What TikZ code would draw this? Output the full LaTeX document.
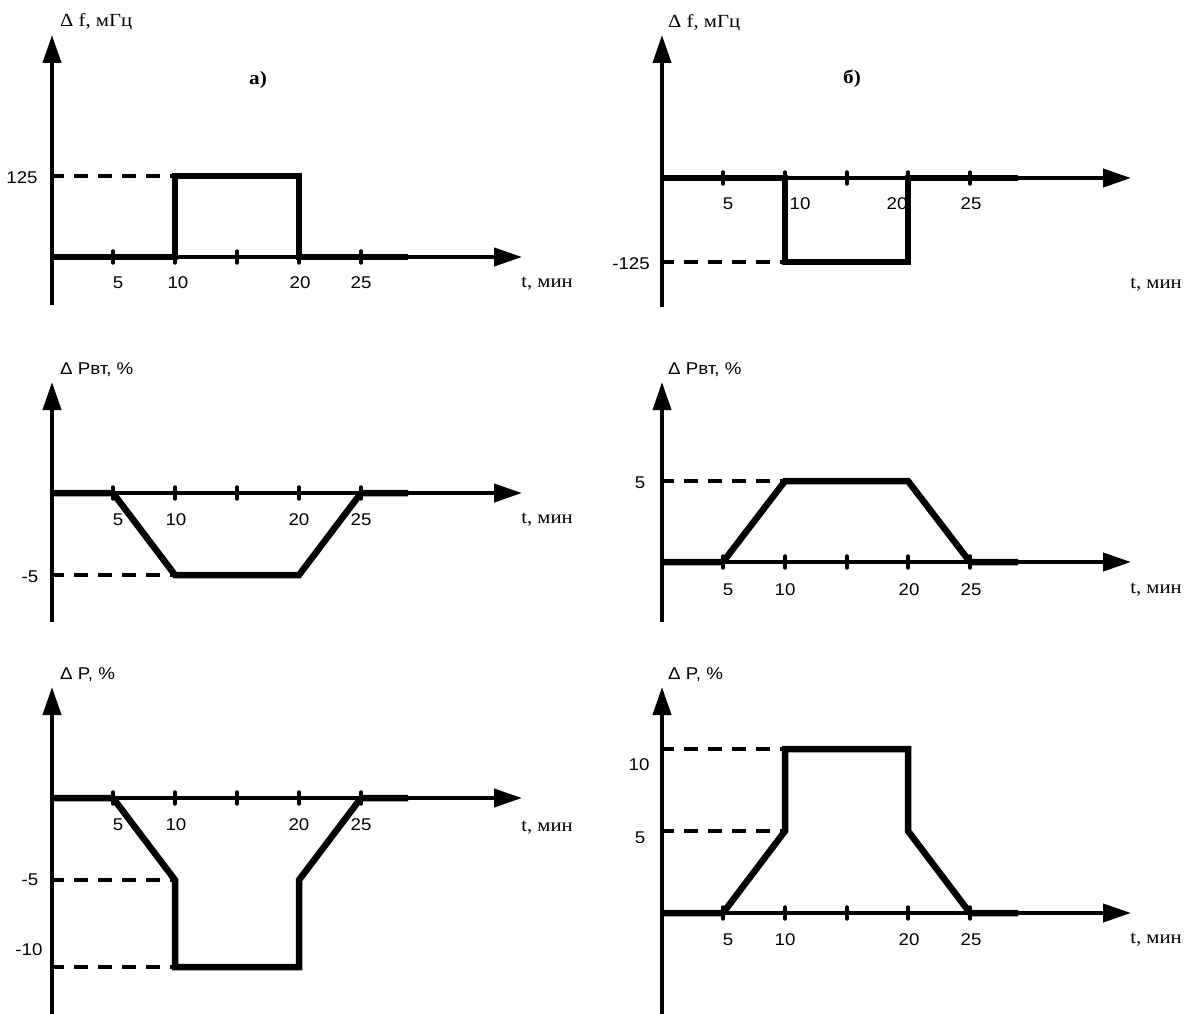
\documentclass[tikz,border=0pt]{standalone}
\usepackage{fontspec}
\setmainfont{Liberation Serif}[FakeStretch=1.12]
\newfontfamily\numf{Liberation Sans}[FakeStretch=1.1]
\usetikzlibrary{arrows.meta}
\begin{document}
\begin{tikzpicture}[x=1pt,y=-1pt,
  axisline/.style={line width=4pt,-{Triangle[length=28pt,width=18pt]}},
  plotline/.style={line width=6.5pt,line join=miter},
  dashline/.style={line width=4.5pt,dash pattern=on 14pt off 10pt,dash phase=2pt},
  tickmark/.style={line width=3.4pt,line cap=round},
  num/.style={font=\numf\fontsize{17}{17}\selectfont,inner sep=0pt},
  ser/.style={font=\fontsize{18.5}{18.5}\selectfont,inner sep=0pt},
  sanslab/.style={font=\numf\fontsize{17}{17}\selectfont,inner sep=0pt,anchor=west},
  panellab/.style={font=\bfseries\fontsize{19}{19}\selectfont,inner sep=0pt},
]
\useasboundingbox (0,0) rectangle (1184,1014);

% ================= Panel a, top: Delta f =================
\coordinate (a1y0) at (52,305); \coordinate (a1y1) at (52,35);
\coordinate (a1x0) at (50,257); \coordinate (a1x1) at (522,257);
\draw[axisline] (a1y0) -- (a1y1);
\draw[axisline] (a1x0) -- (a1x1);
\draw[dashline] (52,176) -- (175,176);
\draw[plotline] (52,257) -- (175,257) -- (175,176) -- (299,176) -- (299,257) -- (408,257);
\foreach \t in {113,175,237,299,361} \draw[tickmark] (\t,251) -- (\t,263);
\node[ser,anchor=west] (a1ylab) at (60,22) {Δ f, мГц};
\node[panellab] (a1pl) at (258,80) {а)};
\node[num] (a1v125) at (22,178) {125};
\node[num] (a1t5) at (118,283) {5};
\node[num] (a1t10) at (178,283) {10};
\node[num] (a1t20) at (300,283) {20};
\node[num] (a1t25) at (361,283) {25};
\node[ser] (a1xlab) at (547,284) {t, мин};

% ================= Panel б, top: Delta f =================
\coordinate (b1y0) at (662,307); \coordinate (b1y1) at (662,35);
\coordinate (b1x0) at (660,178); \coordinate (b1x1) at (1131,178);
\draw[axisline] (b1y0) -- (b1y1);
\draw[axisline] (b1x0) -- (b1x1);
\draw[dashline] (662,262) -- (785,262);
\draw[plotline] (662,178) -- (785,178) -- (785,262) -- (908,262) -- (908,178) -- (1018,178);
\foreach \t in {723,785,847,908,970} \draw[tickmark] (\t,172) -- (\t,184);
\node[ser,anchor=west] (b1ylab) at (668,23) {Δ f, мГц};
\node[panellab] (b1pl) at (852,79) {б)};
\node[num] (b1v125) at (631,264) {-125};
\node[num] (b1t5) at (728,204) {5};
\node[num] (b1t10) at (800,204) {10};
\node[num] (b1t20) at (897,204) {20};
\node[num] (b1t25) at (971,204) {25};
\node[ser] (b1xlab) at (1156,285) {t, мин};

% ================= Panel a, middle: Delta P_vt =================
\coordinate (a2y0) at (52,622); \coordinate (a2y1) at (52,382);
\coordinate (a2x0) at (50,493); \coordinate (a2x1) at (522,493);
\draw[axisline] (a2y0) -- (a2y1);
\draw[axisline] (a2x0) -- (a2x1);
\draw[dashline] (52,575) -- (175,575);
\draw[plotline] (52,493) -- (113,493) -- (175,575) -- (299,575) -- (361,493) -- (408,493);
\foreach \t in {113,175,237,299,361} \draw[tickmark] (\t,487) -- (\t,499);
\node[sanslab] (a2ylab) at (60,370) {Δ Pвт, \%};
\node[num] (a2v5) at (30,577) {-5};
\node[num] (a2t5) at (118,520) {5};
\node[num] (a2t10) at (176,520) {10};
\node[num] (a2t20) at (299,520) {20};
\node[num] (a2t25) at (361,520) {25};
\node[ser] (a2xlab) at (547,520) {t, мин};

% ================= Panel б, middle: Delta P_vt =================
\coordinate (b2y0) at (662,622); \coordinate (b2y1) at (662,382);
\coordinate (b2x0) at (660,562); \coordinate (b2x1) at (1131,562);
\draw[axisline] (b2y0) -- (b2y1);
\draw[axisline] (b2x0) -- (b2x1);
\draw[dashline] (662,481) -- (785,481);
\draw[plotline] (662,562) -- (723,562) -- (785,481) -- (908,481) -- (970,562) -- (1018,562);
\foreach \t in {723,785,847,908,970} \draw[tickmark] (\t,556) -- (\t,568);
\node[sanslab] (b2ylab) at (668,370) {Δ Pвт, \%};
\node[num] (b2v5) at (640,483) {5};
\node[num] (b2t5) at (728,590) {5};
\node[num] (b2t10) at (785,590) {10};
\node[num] (b2t20) at (909,590) {20};
\node[num] (b2t25) at (971,590) {25};
\node[ser] (b2xlab) at (1156,590) {t, мин};

% ================= Panel a, bottom: Delta P =================
\coordinate (a3y0) at (52,1016); \coordinate (a3y1) at (52,687);
\coordinate (a3x0) at (50,798); \coordinate (a3x1) at (522,798);
\draw[axisline] (a3y0) -- (a3y1);
\draw[axisline] (a3x0) -- (a3x1);
\draw[dashline] (52,880) -- (175,880);
\draw[dashline] (52,967) -- (175,967);
\draw[plotline] (52,798) -- (113,798) -- (175,880) -- (175,967) -- (299,967) -- (299,880) -- (361,798) -- (408,798);
\foreach \t in {113,175,237,299,361} \draw[tickmark] (\t,792) -- (\t,804);
\node[sanslab] (a3ylab) at (60,675) {Δ P, \%};
\node[num] (a3v5) at (30,880) {-5};
\node[num] (a3v10) at (29,950) {-10};
\node[num] (a3t5) at (118,825) {5};
\node[num] (a3t10) at (176,825) {10};
\node[num] (a3t20) at (299,825) {20};
\node[num] (a3t25) at (361,825) {25};
\node[ser] (a3xlab) at (547,828) {t, мин};

% ================= Panel б, bottom: Delta P =================
\coordinate (b3y0) at (662,1016); \coordinate (b3y1) at (662,687);
\coordinate (b3x0) at (660,913); \coordinate (b3x1) at (1131,913);
\draw[axisline] (b3y0) -- (b3y1);
\draw[axisline] (b3x0) -- (b3x1);
\draw[dashline] (662,749) -- (785,749);
\draw[dashline] (662,831) -- (785,831);
\draw[plotline] (662,913) -- (723,913) -- (785,831) -- (785,749) -- (908,749) -- (908,831) -- (970,913) -- (1018,913);
\foreach \t in {723,785,847,908,970} \draw[tickmark] (\t,907) -- (\t,919);
\node[sanslab] (b3ylab) at (668,675) {Δ P, \%};
\node[num] (b3v10) at (639,765) {10};
\node[num] (b3v5) at (640,838) {5};
\node[num] (b3t5) at (728,940) {5};
\node[num] (b3t10) at (785,940) {10};
\node[num] (b3t20) at (909,940) {20};
\node[num] (b3t25) at (971,940) {25};
\node[ser] (b3xlab) at (1156,940) {t, мин};
\end{tikzpicture}
\end{document}
